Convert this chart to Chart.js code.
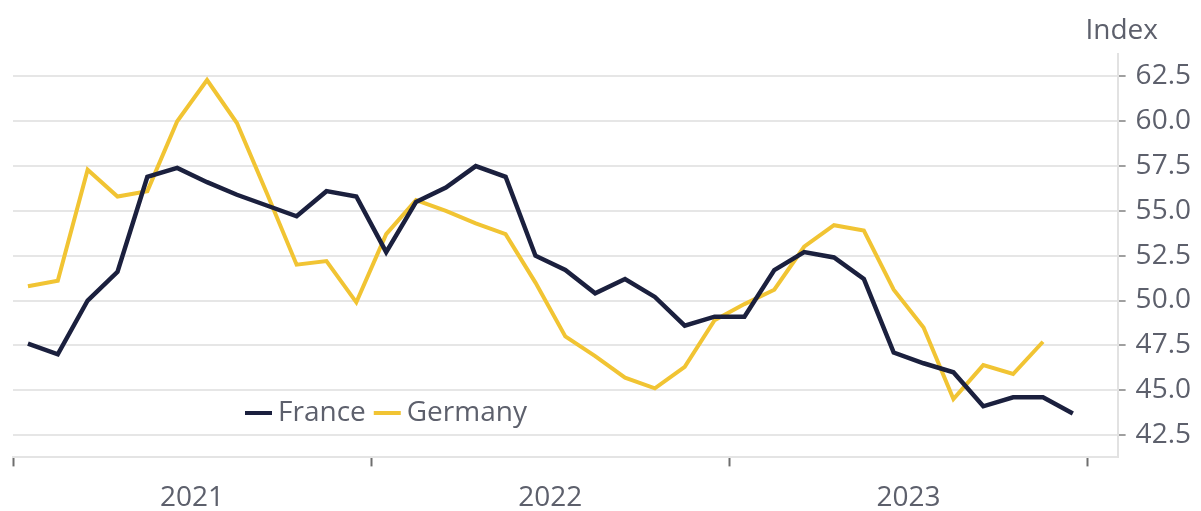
<!DOCTYPE html>
<html>
<head>
<meta charset="utf-8">
<script src="https://cdn.jsdelivr.net/npm/chart.js@4.4.1/dist/chart.umd.min.js"></script>
<style>
    html, body { margin: 0; padding: 0; background: #ffffff; overflow: hidden; }
    #wrap { width: 1201px; height: 511px; position: relative; }
</style>
</head>
<body>
<div id="wrap"><canvas id="chartPmi"></canvas></div>
<script>
const months = [
    '2021-01', '2021-02', '2021-03', '2021-04', '2021-05', '2021-06',
    '2021-07', '2021-08', '2021-09', '2021-10', '2021-11', '2021-12',
    '2022-01', '2022-02', '2022-03', '2022-04', '2022-05', '2022-06',
    '2022-07', '2022-08', '2022-09', '2022-10', '2022-11', '2022-12',
    '2023-01', '2023-02', '2023-03', '2023-04', '2023-05', '2023-06',
    '2023-07', '2023-08', '2023-09', '2023-10', '2023-11', '2023-12',
    '2024-01'
];
const france = [
    47.6, 47.0, 50.0, 51.6, 56.9, 57.4, 56.6, 55.9, 55.3, 54.7, 56.1, 55.8,
    52.7, 55.5, 56.3, 57.5, 56.9, 52.5, 51.7, 50.4, 51.2, 50.2, 48.6, 49.1,
    49.1, 51.7, 52.7, 52.4, 51.2, 47.1, 46.5, 46.0, 44.1, 44.6, 44.6, 43.7,
    null
];
const germany = [
    50.8, 51.1, 57.3, 55.8, 56.1, 60.0, 62.3, 59.9, 56.0, 52.0, 52.2, 49.9,
    53.7, 55.6, 55.0, 54.3, 53.7, 51.0, 48.0, 46.9, 45.7, 45.1, 46.3, 48.9,
    49.8, 50.6, 53.0, 54.2, 53.9, 50.6, 48.5, 44.5, 46.4, 45.9, 47.7, null,
    null
];
const yTicks = [42.5, 45.0, 47.5, 50.0, 52.5, 55.0, 57.5, 60.0, 62.5];
const yearLabels = { '2021-07': '2021', '2022-07': '2022', '2023-07': '2023' };

const FONT = "'Open Sans', 'Noto Sans', sans-serif";
const TXT = '#5d606c';
const NAVY = '#1b203e';
const GOLD = '#f1c433';

Chart.defaults.font.family = FONT;
Chart.defaults.font.size = 28;
Chart.defaults.color = TXT;

// legend inside the plot + "Index" unit label over the y axis
const extras = {
    id: 'extras',
    afterDraw(chart) {
        const ctx = chart.ctx;
        const area = chart.chartArea;
        ctx.save();
        ctx.font = '28px ' + FONT;
        ctx.fillStyle = TXT;
        ctx.textBaseline = 'middle';
        ctx.textAlign = 'right';
        ctx.fillText('Index', 1158, 31);

        const items = [['France', NAVY], ['Germany', GOLD]];
        let x = area.left + 232;
        const ly = 413;
        ctx.textAlign = 'left';
        items.forEach(([label, color]) => {
            ctx.strokeStyle = color;
            ctx.lineWidth = 4;
            ctx.beginPath();
            ctx.moveTo(x, ly);
            ctx.lineTo(x + 27, ly);
            ctx.stroke();
            ctx.fillText(label, x + 33, ly);
            x += 33 + ctx.measureText(label).width + 8;
        });
        ctx.restore();
    }
};

new Chart(document.getElementById('chartPmi'), {
    type: 'line',
    data: {
        labels: months,
        datasets: [
            { label: 'France', data: france, borderColor: NAVY, borderWidth: 4.5, pointRadius: 0, tension: 0, order: 1 },
            { label: 'Germany', data: germany, borderColor: GOLD, borderWidth: 4, pointRadius: 0, tension: 0, order: 2 }
        ]
    },
    options: {
        responsive: true, maintainAspectRatio: false, animation: false,
        layout: { padding: { top: 54, left: 13, right: 0, bottom: -19 } },
        plugins: { legend: { display: false }, tooltip: { enabled: false } },
        scales: {
            x: {
                offset: true,
                border: { display: true, color: '#e4e4e4', width: 2 },
                grid: {
                    offset: true, drawOnChartArea: false, drawTicks: true, tickLength: 9, tickWidth: 2,
                    tickColor: ctx => ctx.index % 12 === 0 ? '#6e6e6e' : 'rgba(0,0,0,0)'
                },
                ticks: {
                    autoSkip: false, maxRotation: 0, padding: 15, labelOffset: -15,
                    callback: (v, i) => yearLabels[months[i]] || ''
                }
            },
            y: {
                position: 'right', min: 41.25, max: 63.75,
                afterBuildTicks: scale => { scale.ticks = yTicks.map(v => ({ value: v })); },
                border: { display: true, color: '#e2e2e2', width: 2 },
                grid: { color: '#e6e6e6', lineWidth: 2, tickLength: 8, tickColor: '#a0a0a0', tickWidth: 2 },
                ticks: { padding: 10, callback: v => v.toFixed(1) }
            }
        }
    },
    plugins: [extras]
});
</script>
</body>
</html>
